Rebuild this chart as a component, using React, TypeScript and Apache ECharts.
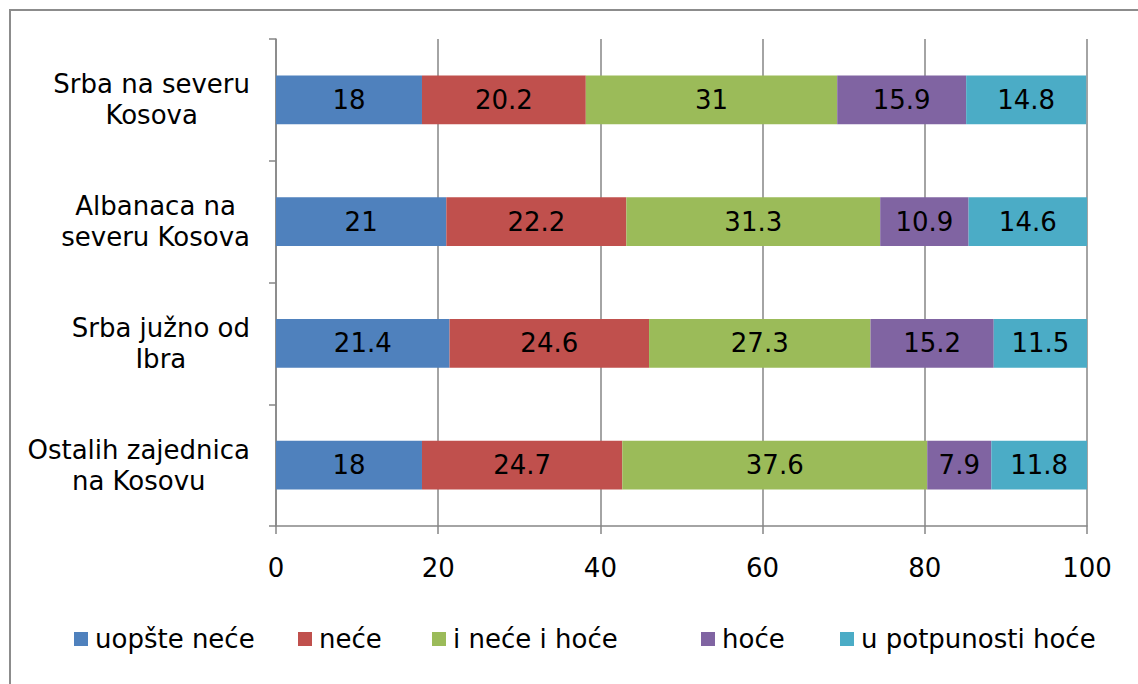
import React, { useEffect, useRef } from "react";
import * as echarts from "echarts";

const categories = [
  "Srba na severu\nKosova",
  "Albanaca na\nseveru Kosova",
  "Srba južno od\nIbra",
  "Ostalih zajednica\nna Kosovu",
];
const seriesNames = ["uopšte neće", "neće", "i neće i hoće", "hoće", "u potpunosti hoće"];
const uopsteNece = [18, 21, 21.4, 18];
const nece = [20.2, 22.2, 24.6, 24.7];
const iNeceIHoce = [31, 31.3, 27.3, 37.6];
const hoce = [15.9, 10.9, 15.2, 7.9];
const uPotpunostiHoce = [14.8, 14.6, 11.5, 11.8];
const seriesValues = [uopsteNece, nece, iNeceIHoce, hoce, uPotpunostiHoce];
const colors = ["#4F81BD", "#C0504D", "#9BBB59", "#8064A2", "#4BACC6"];

const FONT = "DejaVu Sans";
const FS = 26;
const AXIS = "#868686";
const LEGEND_LEFTS = [74, 298, 432, 701, 840];

export default function App() {
  const ref = useRef<HTMLDivElement>(null);
  useEffect(() => {
    if (!ref.current) return;
    const chart = echarts.init(ref.current, null, { renderer: "svg" });
    chart.setOption({
      animation: false,
      backgroundColor: "#ffffff",
      textStyle: { fontFamily: FONT },
      graphic: [
        {
          type: "rect",
          shape: { x: 10, y: 10, width: 1200, height: 800 },
          style: { fill: "none", stroke: "#8c8c8c", lineWidth: 2 },
          silent: true,
        },
      ],
      grid: { left: 276, right: 51, top: 39, bottom: 158 },
      legend: seriesNames.map((name, i) => ({
        left: LEGEND_LEFTS[i],
        top: 626,
        padding: 0,
        itemWidth: 14,
        itemHeight: 14,
        icon: "rect",
        data: [name],
        textStyle: { fontFamily: FONT, fontSize: FS, color: "#000", padding: [0, 0, 0, 2] },
      })),
      xAxis: {
        type: "value",
        min: 0,
        max: 100,
        interval: 20,
        axisLine: { show: true, lineStyle: { color: AXIS, width: 1.5 } },
        axisTick: { show: true, length: 8, lineStyle: { color: AXIS, width: 1.5 } },
        splitLine: { show: true, lineStyle: { color: AXIS, width: 1.5 } },
        axisLabel: { fontFamily: FONT, fontSize: FS, color: "#000", margin: 29 },
      },
      yAxis: {
        type: "category",
        inverse: true,
        data: categories,
        axisLine: { show: true, lineStyle: { color: AXIS, width: 1.5 } },
        axisTick: { show: true, length: 7, lineStyle: { color: AXIS, width: 1.5 } },
        axisLabel: {
          margin: 26,
          align: "right",
          formatter: (v: string) =>
            v
              .split("\n")
              .map((l) => `{c|${l}}`)
              .join("\n"),
          rich: {
            c: { align: "center", fontFamily: FONT, fontSize: FS, color: "#000", lineHeight: 31 },
          },
        },
      },
      series: seriesNames.map((name, i) => ({
        name,
        type: "bar",
        stack: "total",
        barCategoryGap: "60%",
        data: seriesValues[i],
        itemStyle: { color: colors[i] },
        label: {
          show: true,
          position: "inside",
          fontFamily: FONT,
          fontSize: FS,
          color: "#000",
          formatter: (p: any) => String(p.value),
        },
      })),
    });
    return () => chart.dispose();
  }, []);
  return (
    <div
      ref={ref}
      style={{ position: "fixed", left: 0, top: 0, width: 1138, height: 684 }}
    />
  );
}
